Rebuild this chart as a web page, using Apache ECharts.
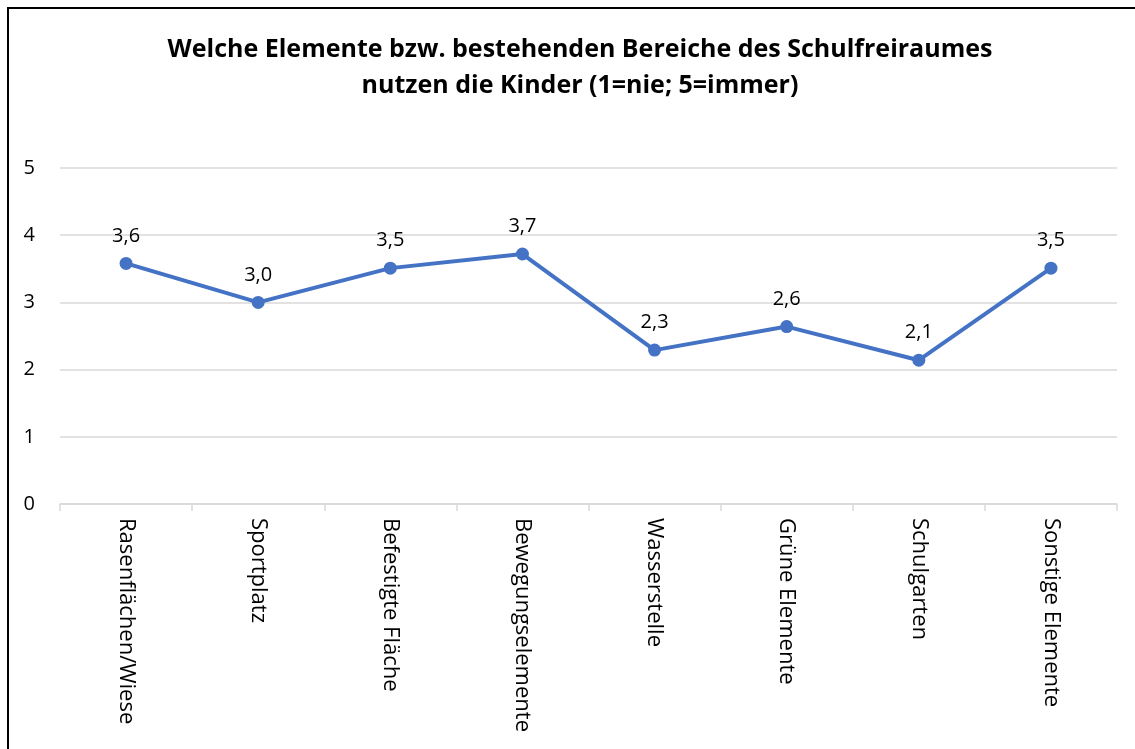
<!DOCTYPE html>
<html>
<head>
<meta charset="utf-8">
<script src="https://cdn.jsdelivr.net/npm/echarts@6/dist/echarts.min.js"></script>
<style>
html,body{margin:0;padding:0;background:#fff;}
#frame{position:absolute;left:7px;top:7px;width:1128px;height:742px;border-left:2px solid #000;border-top:2px solid #000;box-sizing:border-box;}
#chart{position:absolute;left:0;top:0;width:1135px;height:749px;}
</style>
</head>
<body>
<div id="frame"></div>
<div id="chart"></div>
<script>
const titleText = 'Welche Elemente bzw. bestehenden Bereiche des Schulfreiraumes\nnutzen die Kinder (1=nie; 5=immer)';
const categories = ['Rasenflächen/Wiese','Sportplatz','Befestigte Fläche','Bewegungselemente','Wasserstelle','Grüne Elemente','Schulgarten','Sonstige Elemente'];
const values = [3.58, 3.0, 3.51, 3.72, 2.29, 2.64, 2.14, 3.51];
const yTicks = [0, 1, 2, 3, 4, 5];

const chart = echarts.init(document.getElementById('chart'), null, {renderer:'canvas'});
const fontFamily = '"Open Sans", sans-serif';
chart.setOption({
  backgroundColor: 'transparent',
  animation: false,
  textStyle: {fontFamily: fontFamily},
  title: {
    text: titleText,
    left: 575,
    top: 27,
    textAlign: 'center',
    textStyle: {fontSize: 25, fontWeight: 'bold', color: '#000', lineHeight: 36, fontFamily: fontFamily}
  },
  grid: {left: 60, right: 18, top: 168, bottom: 245, containLabel: false},
  xAxis: {
    type: 'category',
    data: categories,
    boundaryGap: true,
    axisLine: {lineStyle: {color: '#d9d9d9', width: 1.5}},
    axisTick: {show: true, length: 7, lineStyle: {color: '#d9d9d9', width: 1.5}},
    axisLabel: {rotate: -90, fontSize: 22, color: '#000', margin: 14, fontFamily: fontFamily}
  },
  yAxis: {
    type: 'value',
    min: yTicks[0],
    max: yTicks[yTicks.length - 1],
    interval: 1,
    axisLine: {show: false},
    axisTick: {show: false},
    splitLine: {lineStyle: {color: '#d9d9d9', width: 1.5}},
    axisLabel: {fontSize: 20, color: '#000', margin: 25, fontFamily: fontFamily}
  },
  series: [{
    type: 'line',
    data: values,
    symbol: 'circle',
    symbolSize: 13,
    lineStyle: {color: '#4472C4', width: 4},
    itemStyle: {color: '#4472C4'},
    label: {
      show: true,
      position: 'top',
      distance: 11,
      fontSize: 20,
      color: '#000',
      fontFamily: fontFamily,
      formatter: p => p.value.toFixed(1).replace('.', ',')
    }
  }]
});
</script>
</body>
</html>
